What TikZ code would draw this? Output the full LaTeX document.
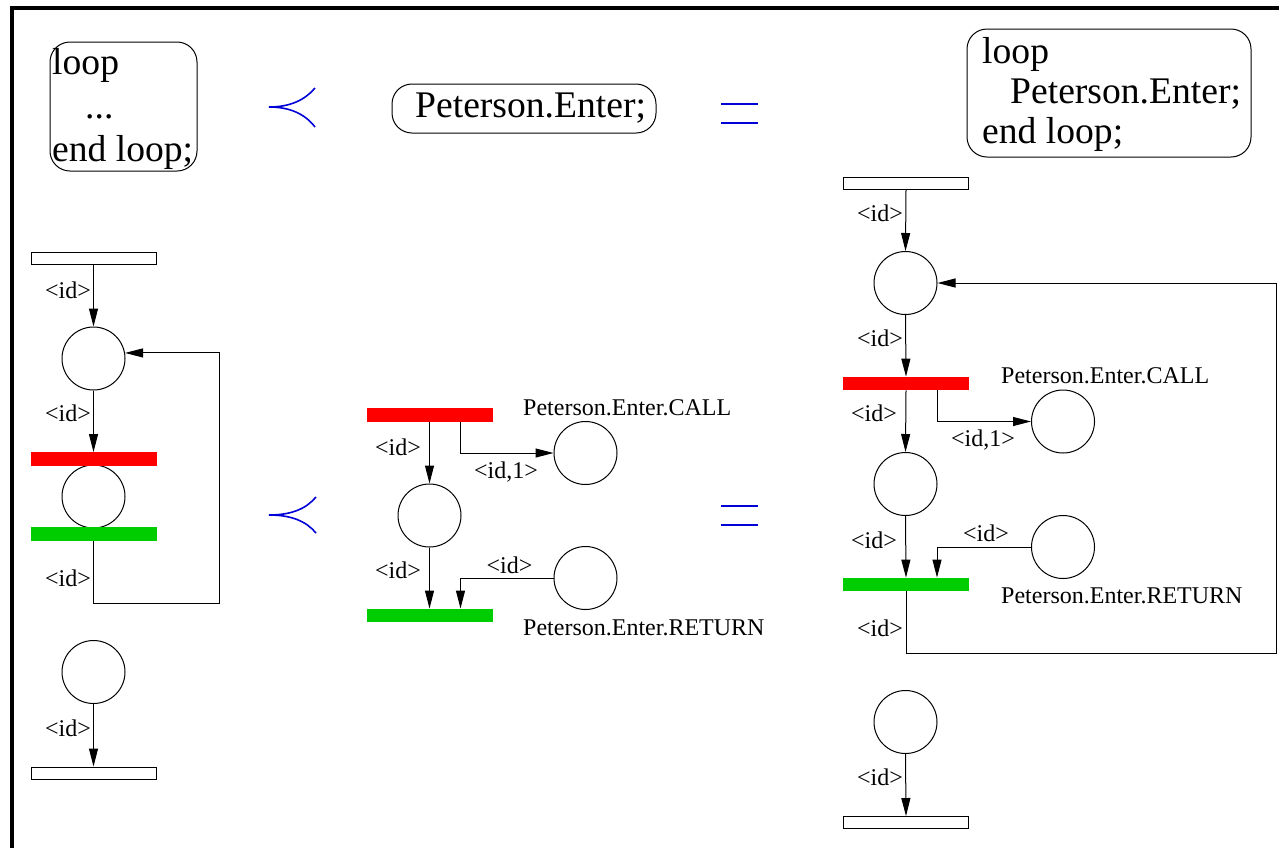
\documentclass[tikz,border=0pt]{standalone}
\usepackage{fontspec}
\setmainfont{Liberation Serif}
\usetikzlibrary{arrows.meta}
\definecolor{pnred}{RGB}{255,0,0}
\definecolor{pngreen}{RGB}{0,205,0}
\definecolor{relblue}{RGB}{0,0,215}
\begin{document}
\begin{tikzpicture}[x=1pt,y=-1pt,
  place/.style={circle,draw,line width=1pt,minimum size=63pt,inner sep=0pt},
  firebar/.style={rectangle,minimum width=126pt,minimum height=13.5pt,inner sep=0pt},
  redbar/.style={firebar,fill=pnred},
  greenbar/.style={firebar,fill=pngreen},
  endbar/.style={rectangle,draw,fill=white,line width=1pt,minimum width=125pt,minimum height=12pt,inner sep=0pt},
  arc/.style={line width=1pt,-{Triangle[length=18pt,width=9pt]}},
  plainarc/.style={line width=1pt},
  lbl/.style={inner sep=0pt,font=\fontsize{24}{28}\selectfont},
  codebox/.style={draw,line width=1pt,rounded corners=20pt,inner sep=0pt},
  big/.style={inner sep=0pt,anchor=base west,font=\fontsize{37.6}{43}\selectfont},
  rel/.style={relblue,line width=1.6pt}
]
\useasboundingbox (0,0) rectangle (1279,847);
\fill[white] (0,0) rectangle (1279,847);
% frame
\draw[line width=4pt] (12,850) -- (12,8) -- (1282,8);

% ---- code boxes ----
\node[codebox,minimum width=147pt,minimum height=129pt] (c1) at (123.5,106.5) {};
\node[big] (c1a) at (52,74) {loop};
\node[big] (c1b) at (85,118) {...};
\node[big] (c1c) at (52,161) {end loop;};

\node[codebox,minimum width=264pt,minimum height=49pt] (c2) at (524,108.5) {};
\node[big] (c2a) at (415,117) {Peterson.Enter;};

\node[codebox,minimum width=284pt,minimum height=128pt] (c3) at (1109,93) {};
\node[big] (c3a) at (982,63) {loop};
\node[big] (c3b) at (1010,103) {Peterson.Enter;};
\node[big] (c3c) at (982,143) {end loop;};

% ---- relation symbols ----
\draw[rel] (315,88) .. controls (305,100) and (290,107) .. (269,107)
           .. controls (290,107) and (305,114) .. (315,127);
\draw[rel] (721,104) -- (758,104) (721,123) -- (758,123);
\draw[rel] (316,497) .. controls (306,509) and (291,515) .. (269,515)
           .. controls (291,515) and (306,521) .. (316,533);
\draw[rel] (721,506) -- (758,506) (721,525) -- (758,525);

% ---- left net ----
\node[endbar] (lt) at (93.5,258) {};
\node[place] (lp1) at (93.5,358.5) {};
\node[redbar] (lr) at (93.5,459) {};
\node[place] (lp2) at (93.5,496.5) {};
\node[greenbar] (lg) at (93.5,534) {};
\node[place] (lp3) at (93.5,672) {};
\node[endbar] (lb) at (93.5,773) {};
\coordinate (lc) at (219,603);

\draw[arc] (lt.south) -- (lp1.north);
\draw[arc] (lp1.south) -- (lr.north);
\draw[arc] (lg.south) |- (lc) |- (lp1.10);
\draw[arc] (lp3.south) -- (lb.north);
\node[lbl,anchor=east] (ll1) at (91,290) {<id>};
\node[lbl,anchor=east] (ll2) at (91,413) {<id>};
\node[lbl,anchor=east] (ll3) at (91,578) {<id>};
\node[lbl,anchor=east] (ll4) at (91,728) {<id>};
\node[redbar] at (93.5,459) {};
\node[greenbar] at (93.5,534) {};

% ---- middle net ----
\node[redbar] (mr) at (429.5,415) {};
\node[place] (mp) at (429.5,515.5) {};
\node[greenbar] (mg) at (429.5,615.5) {};
\node[place] (mcall) at (585.5,453) {};
\node[place] (mret) at (585.5,578) {};
\draw[arc] (mr.south) -- (mp.north);
\draw[arc] ([xshift=31pt]mr.south) |- (mcall.west);
\draw[arc] (mp.south) -- (mg.north);
\draw[arc] (mret.west) -| ([xshift=31pt]mg.north);
\node[lbl,anchor=east] (ml1) at (421,447) {<id>};
\node[lbl] (ml2) at (506,472) {<id,1>};
\node[lbl,anchor=east] (ml3) at (421,570) {<id>};
\node[lbl] (ml4) at (509.5,565) {<id>};
\node[lbl,anchor=base west] (mcalll) at (523,415) {Peterson.Enter.CALL};
\node[lbl,anchor=base west] (mretl) at (523,635) {Peterson.Enter.RETURN};

% ---- right net ----
\node[endbar] (rt) at (906,183) {};
\node[place] (rp1) at (905.5,283) {};
\node[redbar] (rr) at (906,383.5) {};
\node[place] (rp2) at (905.5,484) {};
\node[greenbar] (rg) at (906,584.5) {};
\node[place] (rp3) at (905.5,722) {};
\node[endbar] (rb) at (906,822.5) {};
\node[place] (rcall) at (1063,421.5) {};
\node[place] (rret) at (1063,547) {};
\coordinate (rc) at (1276,653);

\draw[arc] (rt.south) -- (rp1.north);
\draw[arc] (rp1.south) -- (rr.north);
\draw[arc] (rr.south) -- (rp2.north);
\draw[arc] ([xshift=31pt]rr.south) |- (rcall.west);
\draw[arc] (rp2.south) -- (rg.north);
\draw[arc] (rret.west) -| ([xshift=31pt]rg.north);
\draw[arc] (rg.south) |- (rc) |- (rp1.east);
\draw[arc] (rp3.south) -- (rb.north);
\node[redbar] at (906,383.5) {};
\node[greenbar] at (906,584.5) {};

\node[lbl,anchor=east] (rl1) at (903,213) {<id>};
\node[lbl,anchor=east] (rl2) at (903,338) {<id>};
\node[lbl,anchor=east] (rl3) at (897,413) {<id>};
\node[lbl] (rl4) at (983,440) {<id,1>};
\node[lbl,anchor=east] (rl5) at (897,540) {<id>};
\node[lbl] (rl6) at (986,533) {<id>};
\node[lbl,anchor=east] (rl7) at (903,628) {<id>};
\node[lbl,anchor=east] (rl8) at (903,777) {<id>};
\node[lbl,anchor=base west] (rcalll) at (1001,383) {Peterson.Enter.CALL};
\node[lbl,anchor=base west] (rretl) at (1001,603) {Peterson.Enter.RETURN};
\end{tikzpicture}
\end{document}
